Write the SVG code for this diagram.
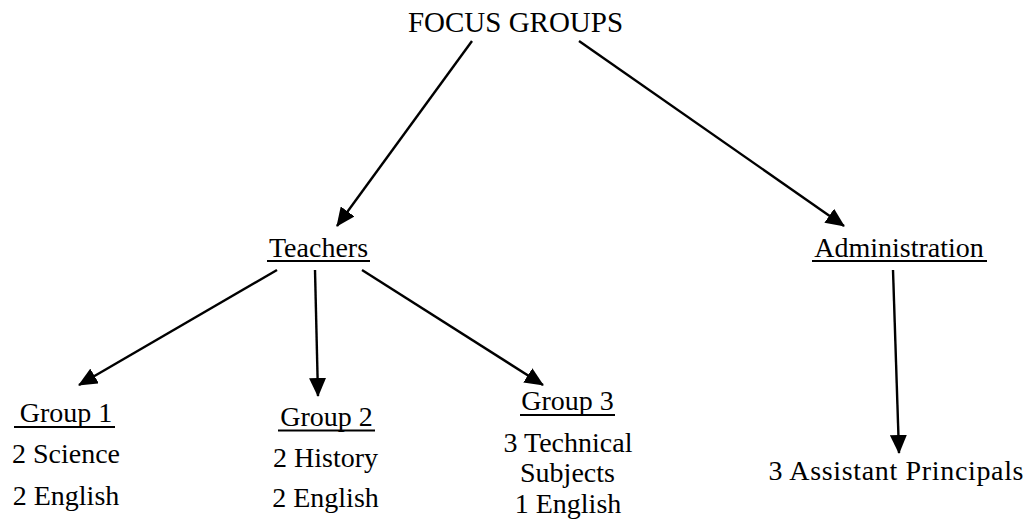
<svg xmlns="http://www.w3.org/2000/svg" width="1031" height="521" viewBox="0 0 1031 521">
<style>
text{font-family:"Liberation Serif","Times New Roman","DejaVu Serif",serif;font-size:28px;fill:#000;text-anchor:middle}
.ul{stroke:#000;stroke-width:2}
.conn{stroke:#000;stroke-width:2.4;fill:none;marker-end:url(#ah)}
</style>
<defs>
<marker id="ah" markerUnits="userSpaceOnUse" markerWidth="19" markerHeight="17" refX="18" refY="8.5" orient="auto" viewBox="0 0 19 17">
<path d="M0,0 L19,8.5 L0,17 z" fill="#000"/>
</marker>
</defs>
<rect width="1031" height="521" fill="#fff"/>
<g id="connectors">
<line class="conn" x1="472" y1="41" x2="337" y2="226"/>
<line class="conn" x1="579" y1="41" x2="844" y2="226"/>
<line class="conn" x1="277" y1="270" x2="79" y2="385"/>
<line class="conn" x1="315" y1="270" x2="318" y2="396"/>
<line class="conn" x1="362" y1="270" x2="543" y2="385"/>
<line class="conn" x1="893" y1="270" x2="899" y2="453"/>
</g>
<g id="focus-groups">
<text x="515.5" y="32" style="font-size:29px">FOCUS GROUPS</text>
</g>
<g id="teachers">
<text x="318.5" y="256.5">Teachers</text>
<line class="ul" x1="267" y1="261" x2="370" y2="261"/>
</g>
<g id="administration">
<text x="899" y="256.5">Administration</text>
<line class="ul" x1="812" y1="261" x2="987" y2="261"/>
</g>
<g id="group1">
<text x="66" y="422">Group 1</text>
<line class="ul" x1="14" y1="427" x2="115" y2="427"/>
<text x="66" y="463">2 Science</text>
<text x="66" y="505">2 English</text>
</g>
<g id="group2">
<text x="326.5" y="425.5">Group 2</text>
<line class="ul" x1="278" y1="430.5" x2="375" y2="430.5"/>
<text x="325.5" y="467">2 History</text>
<text x="325.5" y="506.5">2 English</text>
</g>
<g id="group3">
<text x="567.5" y="410">Group 3</text>
<line class="ul" x1="520" y1="415" x2="615" y2="415"/>
<text x="568" y="451.5">3 Technical</text>
<text x="567.5" y="481.5">Subjects</text>
<text x="568" y="513">1 English</text>
</g>
<g id="assistant-principals">
<text x="896" y="480" textLength="255">3 Assistant Principals</text>
</g>
</svg>
